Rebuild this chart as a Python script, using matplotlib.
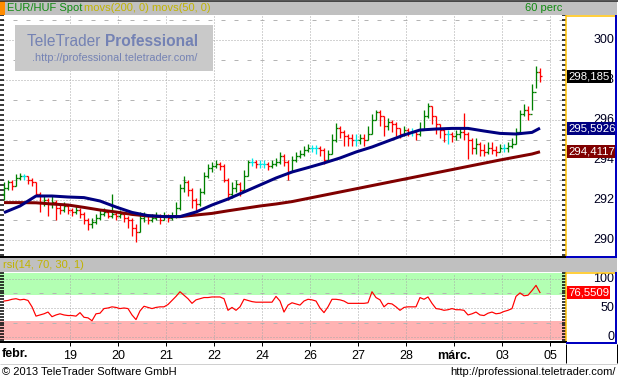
import numpy as np
import matplotlib
matplotlib.use("Agg")
import matplotlib.pyplot as plt
from matplotlib.collections import LineCollection
from matplotlib.lines import Line2D
from matplotlib.patches import Rectangle
import matplotlib.transforms as mtrans
from matplotlib.ticker import MultipleLocator

plt.rcParams['font.family'] = ['Liberation Sans', 'DejaVu Sans']
plt.rcParams['lines.scale_dashes'] = False

# ---------------- data (2-hour bars, EUR/HUF) ----------------
first_open = 292.3
close = [292.6, 292.9, 292.7, 293.1, 293.2, 293.2, 293.0, 292.9, 292.3, 291.9,
         292.0, 291.8, 291.9, 291.6, 291.5, 291.7, 291.5, 291.4, 291.5, 291.3,
         291.0, 290.8, 290.9, 291.1, 291.3, 291.4, 291.2, 291.3, 291.2, 291.3,
         291.1, 291.0, 290.6, 290.4, 291.1, 291.2, 291.0, 291.1, 291.2, 291.0,
         291.2, 291.1, 291.2, 291.6, 292.6, 292.9, 292.5, 292.0, 291.8, 292.4,
         293.2, 293.6, 293.7, 293.8, 293.7, 293.0, 292.3, 292.6, 292.8, 292.5,
         293.2, 293.9, 293.9, 293.8, 293.8, 293.8, 293.7, 293.8, 293.9, 294.2,
         293.9, 293.4, 294.0, 294.2, 294.3, 294.5, 294.6, 294.6, 294.6, 294.5,
         294.0, 294.3, 295.0, 295.6, 295.4, 295.2, 295.1, 295.0, 295.0, 295.1,
         295.0, 295.3, 296.0, 296.4, 296.2, 295.7, 295.9, 295.8, 295.6, 295.3,
         295.5, 295.4, 295.4, 295.3, 295.5, 296.2, 296.7, 296.2, 295.8, 295.5,
         295.3, 295.3, 295.2, 295.3, 295.4, 295.3, 295.0, 294.6, 294.8, 294.5,
         294.4, 294.6, 294.5, 294.4, 294.6, 294.6, 294.7, 294.8, 295.4, 296.3,
         296.5, 296.3, 297.4, 298.4, 298.185]
high = [292.9, 293.0, 293.0, 293.3, 293.35, 293.3, 293.2, 293.1, 292.9, 292.4,
        292.2, 292.1, 292.2, 292.0, 291.8, 291.9, 291.8, 291.6, 291.7, 291.6,
        291.4, 291.1, 291.1, 291.3, 291.5, 291.6, 291.5, 292.3, 291.4, 291.5,
        291.3, 291.2, 291.1, 290.8, 291.4, 291.4, 291.3, 291.3, 291.4, 291.3,
        291.4, 291.3, 291.4, 291.9, 292.8, 293.2, 293.0, 292.6, 292.1, 292.6,
        293.4, 293.8, 293.9, 294.0, 293.9, 293.8, 293.1, 292.9, 293.0, 292.9,
        293.5, 294.0, 294.1, 294.0, 294.0, 294.0, 293.9, 294.0, 294.1, 294.4,
        294.3, 294.0, 294.2, 294.4, 294.5, 294.7, 294.8, 294.75, 294.75, 294.7,
        294.6, 294.5, 295.3, 295.85, 295.7, 295.5, 295.3, 295.3, 295.3, 295.3,
        295.3, 295.7, 296.3, 296.5, 296.5, 296.2, 296.1, 296.0, 295.9, 295.6,
        295.7, 295.6, 295.6, 295.5, 295.9, 296.5, 296.85, 296.7, 296.2, 295.8,
        295.6, 295.5, 295.4, 295.5, 295.6, 296.35, 295.4, 295.1, 295.1, 294.9,
        294.8, 294.9, 294.9, 294.7, 294.8, 294.8, 294.9, 295.1, 295.6, 296.5,
        296.8, 296.7, 297.8, 298.7, 298.6]
low = [292.0, 292.5, 292.5, 292.7, 293.0, 293.0, 292.8, 292.7, 292.2, 291.4,
       291.7, 291.2, 291.6, 291.0, 291.3, 291.4, 291.3, 291.2, 291.3, 291.1,
       290.8, 290.5, 290.6, 290.8, 291.0, 291.2, 291.1, 291.1, 291.0, 291.1,
       290.9, 290.6, 290.2, 289.9, 290.4, 290.9, 290.8, 290.9, 291.0, 290.8,
       291.0, 290.9, 291.0, 291.1, 291.5, 292.4, 292.2, 291.6, 291.5, 291.7,
       292.3, 293.1, 293.4, 293.6, 293.5, 292.9, 292.0, 292.1, 292.4, 292.2,
       292.5, 293.2, 293.7, 293.6, 293.6, 293.6, 293.5, 293.6, 293.7, 293.8,
       293.7, 293.0, 293.4, 293.9, 294.1, 294.2, 294.4, 294.4, 294.3, 294.2,
       293.8, 294.0, 294.3, 294.9, 295.1, 294.7, 294.7, 294.7, 294.7, 294.8,
       294.7, 295.0, 295.3, 296.0, 295.7, 295.2, 295.5, 295.4, 295.2, 295.1,
       295.2, 295.2, 295.2, 295.0, 295.2, 295.5, 296.1, 295.8, 295.3, 295.1,
       294.9, 294.8, 294.9, 295.0, 295.1, 295.0, 294.05, 294.3, 294.3, 294.2,
       294.2, 294.3, 294.3, 294.2, 294.4, 294.4, 294.4, 294.6, 294.8, 295.3,
       296.2, 296.0, 296.5, 297.6, 297.9]

# moving averages, sampled every 4 bars (+ last bar)
ma_idx = [0, 4, 8, 12, 16, 20, 24, 28, 32, 36, 40, 44, 48, 52, 56, 60, 64, 68,
          72, 76, 80, 84, 88, 92, 96, 100, 104, 108, 112, 116, 120, 124, 128, 132, 134]
ma50 = [291.37, 291.7, 292.2, 292.2, 292.15, 292.12, 291.95, 291.65, 291.38, 291.22,
        291.17, 291.17, 291.4, 291.75, 292.05, 292.4, 292.75, 293.1, 293.4, 293.62,
        293.85, 294.1, 294.4, 294.65, 294.95, 295.25, 295.5, 295.55, 295.58, 295.58,
        295.45, 295.33, 295.3, 295.38, 295.5926]
ma200 = [291.87, 291.87, 291.86, 291.8, 291.75, 291.63, 291.5, 291.4, 291.28, 291.2,
         291.17, 291.17, 291.25, 291.33, 291.46, 291.58, 291.7, 291.8, 291.92, 292.08,
         292.24, 292.4, 292.56, 292.72, 292.88, 293.04, 293.2, 293.36, 293.52, 293.68,
         293.84, 294.0, 294.15, 294.3, 294.4117]

rsi = [62, 63, 65, 66, 64, 65, 63, 52, 36, 38,
       40, 43, 35, 38, 40, 38, 37, 37, 36, 42,
       34, 33, 28, 40, 41, 49, 50, 52, 51, 49,
       50, 49, 38, 30, 45, 53, 51, 49, 51, 52,
       52, 56, 63, 70, 78, 72, 66, 58, 64, 66,
       68, 68, 69, 69, 69, 66, 46, 51, 46, 52,
       65, 63, 61, 60, 60, 60, 60, 60, 70, 62,
       43, 55, 59, 57, 55, 62, 65, 64, 62, 50,
       42, 52, 65, 65, 64, 62, 58, 58, 58, 58,
       58, 59, 78, 68, 64, 52, 58, 57, 52, 46,
       51, 52, 52, 52, 68, 65, 69, 58, 49, 48,
       46, 47, 49, 47, 47, 46, 38, 40, 43, 38,
       37, 41, 43, 40, 41, 44, 46, 49, 70, 76,
       71, 72, 80, 89, 76.5509]

date_labels = ['19', '20', '21', '22', '24', '26', '27', '28', 'márc.', '03', '05']
first_label = 'febr.'
bars_per_label = 12
first_label_bar = 16.5

# ---------------- figure helpers ----------------
W, H = 618, 381
fig = plt.figure(figsize=(W / 100, H / 100), dpi=100)
fig.patch.set_facecolor('white')

def fx(x):
    return x / W

def fy(y):
    return 1 - y / H

def fline(xs, ys, color, lw_px=1.0, z=5):
    fig.add_artist(Line2D([fx(x) for x in xs], [fy(y) for y in ys],
                          transform=fig.transFigure, color=color,
                          linewidth=lw_px * 0.72, zorder=z, solid_capstyle='butt'))

def frect(x0, y0, x1, y1, color, z=1):
    fig.add_artist(Rectangle((fx(x0), fy(y1)), fx(x1) - fx(x0), fy(y0) - fy(y1),
                             transform=fig.transFigure, facecolor=color,
                             edgecolor='none', zorder=z))

PX = 0.72  # points per pixel
DOT = (0, (1 * PX, 2 * PX))
DASH = (0, (4 * PX, 9 * PX))
GRID_DOT = '#a8a8a8'
GRID_DASH = '#b4b4b4'

n = len(close)
idx = np.arange(n)
opens = np.array([first_open] + close[:-1])
closes = np.array(close)
date_pos = first_label_bar + bars_per_label * np.arange(len(date_labels))

# ---------------- main price panel ----------------
ax = fig.add_axes([0, fy(257), fx(566), (257 - 15) / H])
ax.set_xlim(-1, 140.5)
ax.set_ylim(289.15, 301.25)
ax.set_facecolor('white')
for lv in np.arange(290, 301, 2):
    ax.axhline(lv, color=GRID_DOT, lw=1 * PX, ls=DOT, zorder=1)
for lv in np.arange(289, 302, 2):
    ax.axhline(lv, color=GRID_DASH, lw=1 * PX, ls=DASH, zorder=1)
for p in date_pos:
    ax.axvline(p, color=GRID_DOT, lw=1 * PX, ls=DOT, zorder=1)

segs, cols = [], []
for i in idx:
    o, h, l, c = opens[i], high[i], low[i], closes[i]
    if c > o + 1e-9:
        col = '#008000'
    elif c < o - 1e-9:
        col = '#ff0000'
    else:
        col = '#00e8e8'
    segs += [[(i, l), (i, h)], [(i - 0.45, o), (i, o)], [(i, c), (i + 0.45, c)]]
    cols += [col] * 3
ax.add_collection(LineCollection(segs, colors=cols, linewidths=1.3 * PX, zorder=3))

ax.plot(ma_idx, ma200, color='#800000', lw=3 * PX, zorder=4, solid_capstyle='butt')
ax.plot(ma_idx, ma50, color='#000080', lw=3 * PX, zorder=5, solid_capstyle='butt')

for s in ['top', 'left']:
    ax.spines[s].set_visible(False)
ax.spines['bottom'].set_color('black')
ax.spines['bottom'].set_linewidth(2 * PX)
ax.spines['right'].set_color('#ffc000')
ax.spines['right'].set_linewidth(1.5 * PX)
ax.set_xticks([])
ax.yaxis.set_major_locator(MultipleLocator(1))
ax.yaxis.set_minor_locator(MultipleLocator(0.25))
ax.tick_params(axis='y', which='both', left=True, right=True, direction='in',
               length=4 * PX, width=1.5 * PX, labelleft=False, labelright=False,
               color='black')

# watermark
frect(15, 25, 213, 71, '#c9c9c9', z=6)
wm1 = fig.text(fx(27), fy(42), 'TeleTrader ', color='#7482b4', fontsize=11.2,
               va='center', ha='left', zorder=7)
fig.text(fx(198), fy(42), 'Professional', color='#7482b4', fontsize=11.2,
         fontweight='bold', va='center', ha='right', zorder=7)
fig.text(fx(197), fy(58), '.http://professional.teletrader.com/', color='#7482b4',
         fontsize=7.8, va='center', ha='right', zorder=7)

# right price panel
trp = mtrans.blended_transform_factory(fig.transFigure, ax.transData)
for lv in np.arange(290, 301, 2):
    ax.text(fx(614), lv, f'{lv:d}', transform=trp, ha='right', va='center',
            fontsize=9, color='#000020', clip_on=False, zorder=8)

def tag(axx, tr, y, txt, fc):
    axx.text(fx(568), y, txt, transform=tr, ha='left', va='center', fontsize=8.2,
             color='white', clip_on=False, zorder=9,
             bbox=dict(boxstyle='square,pad=0.12', fc=fc, ec='none'))

tag(ax, trp, close[-1], f'{close[-1]:.3f}'.replace('.', ','), 'black')
tag(ax, trp, ma50[-1], f'{ma50[-1]:.4f}'.replace('.', ','), '#000080')
tag(ax, trp, ma200[-1], f'{ma200[-1]:.4f}'.replace('.', ','), '#800000')

# ---------------- RSI panel ----------------
ax2 = fig.add_axes([0, fy(342), fx(566), (342 - 273) / H])
ax2.set_xlim(-1, 140.5)
ax2.set_ylim(-8.6, 110.3)
ax2.axhspan(72, 110.3, color='#b3ffb3', zorder=0, lw=0)
ax2.axhspan(-5, 28, color='#ffb3b3', zorder=0, lw=0)
for lv in [0, 50, 100]:
    ax2.axhline(lv, color=GRID_DOT, lw=1 * PX, ls=DOT, zorder=1)
for lv in [25, 75]:
    ax2.axhline(lv, color=GRID_DASH, lw=1 * PX, ls=DASH, zorder=1)
for p in date_pos:
    ax2.axvline(p, color=GRID_DOT, lw=1 * PX, ls=DOT, zorder=1)
ax2.plot(idx, rsi, color='#ff0000', lw=1.2 * PX, zorder=3)

for s in ['top', 'left']:
    ax2.spines[s].set_visible(False)
ax2.spines['bottom'].set_color('black')
ax2.spines['bottom'].set_linewidth(2 * PX)
ax2.spines['right'].set_color('#ffc000')
ax2.spines['right'].set_linewidth(1.5 * PX)
ax2.yaxis.set_major_locator(MultipleLocator(25))
ax2.yaxis.set_minor_locator(MultipleLocator(5))
ax2.tick_params(axis='y', which='both', left=True, right=True, direction='in',
                length=4 * PX, width=1.5 * PX, labelleft=False, labelright=False)
ax2.set_xticks(date_pos, date_labels)
ax2.tick_params(axis='x', direction='out', length=4 * PX, width=1 * PX, pad=3,
                labelsize=9, colors='black')
for lbl in ax2.get_xticklabels():
    if lbl.get_text() == 'márc.':
        lbl.set_fontweight('bold')
trd = mtrans.blended_transform_factory(ax2.transData, fig.transFigure)
ax2.text(-0.6, fy(354), first_label, transform=trd, ha='left', va='center',
         fontsize=9, fontweight='bold', clip_on=False)

tr2 = mtrans.blended_transform_factory(fig.transFigure, ax2.transData)
for lv in [0, 50, 100]:
    ax2.text(fx(614), lv, f'{lv:d}', transform=tr2, ha='right', va='center',
             fontsize=9, color='#000020', clip_on=False, zorder=8)
tag(ax2, tr2, rsi[-1], f'{rsi[-1]:.4f}'.replace('.', ','), '#ff0000')

# ---------------- headers, frames ----------------
frect(0, 1, 617, 15, '#c0c0c0')
frect(0, 1, 5, 15, '#ff8c00', z=2)
t1 = fig.text(fx(7), fy(8), 'EUR/HUF Spot', color='#108a10', fontsize=8,
              va='center', ha='left')
fig.text(fx(84), fy(8), 'movs(200, 0) movs(50, 0)', color='#c0b400', fontsize=8,
         va='center', ha='left')
fig.text(fx(562), fy(8), '60 perc', color='#108a10', fontsize=8, va='center', ha='right')
fline([0, 618], [0.5, 0.5], '#202020', 1.5)

frect(0, 258, 617, 272, '#c0c0c0')
fig.text(fx(3), fy(265), 'rsi(14, 70, 30, 1)', color='#c0b400', fontsize=8,
         va='center', ha='left')

# right panel borders
fline([566, 617], [15.5, 15.5], '#ffc000', 1.5)
fline([616, 616], [15, 257], '#0000c0', 2)
fline([566, 617], [256.5, 256.5], '#0000c0', 2)
fline([566, 617], [272.5, 272.5], '#ffc000', 1.5)
fline([616, 616], [272, 343], '#0000c0', 2)
fline([566, 617], [342.5, 342.5], '#0000c0', 2)
fline([566, 566], [344, 363], 'black', 1)
fline([617, 617], [344, 363], 'black', 1)
fline([0, 617], [363.5, 363.5], '#d0d0d0', 1)

# footer
fig.text(fx(2), fy(372), '© 2013 TeleTrader Software GmbH', fontsize=8, va='center', ha='left')
fig.text(fx(616), fy(372), 'http://professional.teletrader.com/', fontsize=8,
         va='center', ha='right')

fig.savefig('out.png', dpi=100)
